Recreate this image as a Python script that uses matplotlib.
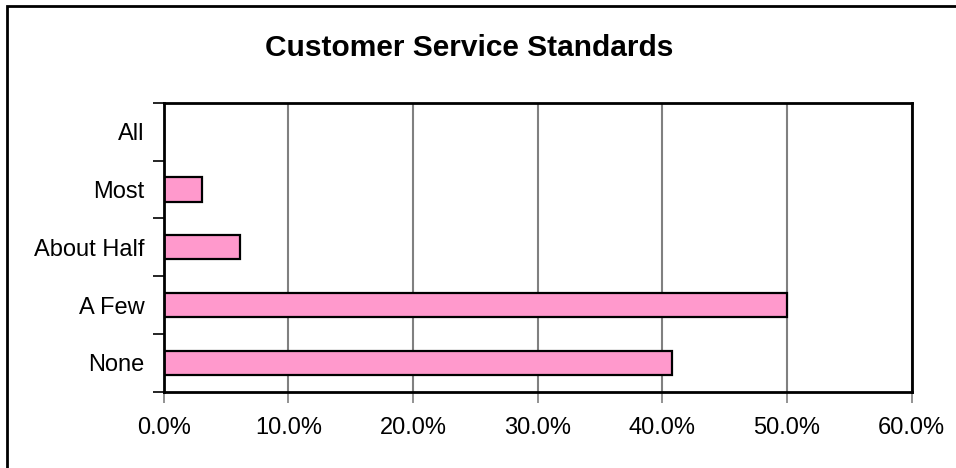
import matplotlib.pyplot as plt
from matplotlib.patches import Rectangle
from matplotlib.ticker import FuncFormatter
import numpy as np

plt.rcParams['font.family'] = ['Liberation Sans', 'DejaVu Sans']

# data
categories = ['None', 'A Few', 'About Half', 'Most', 'All']
values = [40.8, 50.0, 6.1, 3.05, 0.0]

fig = plt.figure(figsize=(9.56, 4.68), dpi=100)
ax = fig.add_axes([0.1712, 0.163, 0.7824, 0.6175])

y = np.arange(len(categories))
ax.barh(y, values, height=0.42, color='#FF99CC', edgecolor='black', linewidth=1.6, zorder=3)

ax.set_xlim(0, 60)
ax.set_ylim(-0.5, len(categories) - 0.5)
ax.set_xticks(np.arange(0, 61, 10))
ax.xaxis.set_major_formatter(FuncFormatter(lambda v, p: '%.1f%%' % v))
ax.grid(axis='x', color='#808080', linewidth=1.5, zorder=0)

# category labels in the middle, ticks on the boundaries
ax.set_yticks(y)
ax.set_yticklabels(categories)
ax.set_yticks(np.arange(-0.5, len(categories), 1), minor=True)
ax.tick_params(axis='y', which='major', length=0, pad=14, labelsize=17)
ax.tick_params(axis='y', which='minor', length=8, width=1.2, color='black')
ax.tick_params(axis='x', length=8, width=1.2, color='#808080', pad=10, labelsize=17)

for s in ax.spines.values():
    s.set_linewidth(2)
    s.set_color('black')
    s.set_zorder(4)

fig.text(0.491, 0.898, 'Customer Service Standards', ha='center', va='center',
         fontsize=21.5, fontweight='bold')

# chart-area border
fig.patches.append(Rectangle((0.0073, -0.2), 1.2, 1.187, transform=fig.transFigure,
                             fill=False, edgecolor='black', linewidth=2))

fig.savefig('out.png', dpi=100)
